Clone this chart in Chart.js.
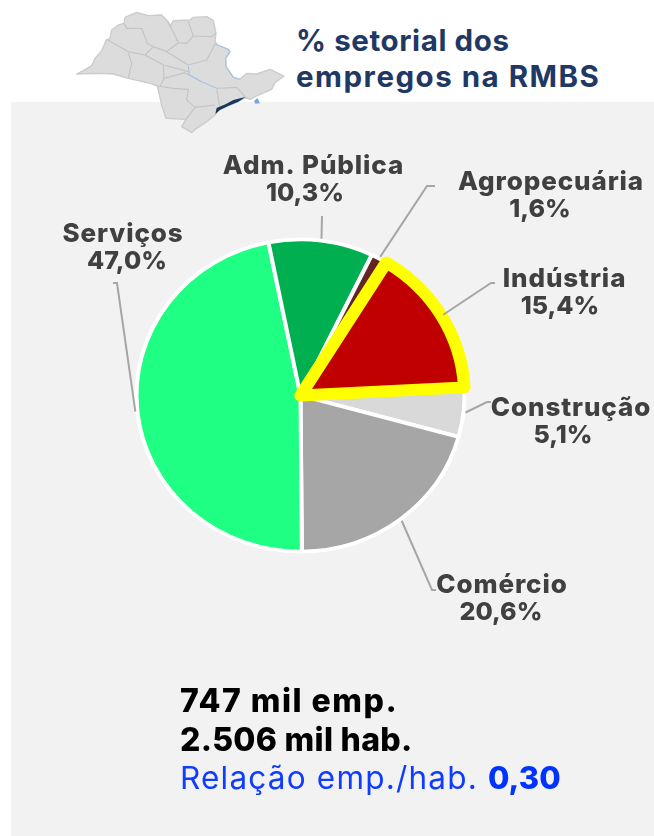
<!DOCTYPE html>
<html lang="pt-BR"><head><meta charset="utf-8">
<style>
html,body{margin:0;padding:0;background:#fff;overflow:hidden}
#page{position:relative;width:654px;height:836px;overflow:hidden;font-family:Inter,"Open Sans",sans-serif}
#panel{position:absolute;left:11px;top:102px;width:643px;height:734px;background:#f2f2f2}
#map{position:absolute;left:60px;top:0;width:240px;height:140px}
canvas{position:absolute;left:0;top:0}
.t{position:absolute;white-space:nowrap}
#title{left:296px;top:22px;font-size:29.5px;line-height:36px;font-weight:700;letter-spacing:.6px;color:#1f3864}
#title span{letter-spacing:1.5px}
#stats{left:180px;top:682px;font-size:32px;line-height:38.5px;font-weight:800;letter-spacing:.3px;color:#000}
#stats .a{letter-spacing:1.5px}
#stats .b{color:#0f3cff;font-weight:400;font-size:31.5px;letter-spacing:1.2px}
#stats .b b{font-weight:800;font-size:31px;letter-spacing:0;color:#0033ff}
</style></head><body>
<div id="page">
<div id="panel"></div>
<svg id="map" viewBox="0 0 720 420">
<path fill="#dcdcdc" stroke="#cbcbcb" stroke-width="4" stroke-linejoin="round" d="M50 222L70 212L95 197L105 175L125 152L138 122L150 115L155 90L175 75L192 70L195 52L230 37L265 47L305 45L322 62L330 80L340 62L390 60L400 52L440 50L460 62L468 100L465 125L472 135L505 148L510 155L497 175L498 200L520 232L540 238L560 220L590 222L630 208L672 228L645 248L635 268L590 288L570 298L555 293L535 305L480 325L465 345L440 365L410 385L395 398L365 380L378 358L318 355L305 315L292 258L270 250L205 235L160 222L115 220Z"/>
<path fill="none" stroke="#c4c4c4" stroke-width="3.5" stroke-linejoin="round" d="M140 118L205 155L255 165L280 140M255 165L310 195L385 215M205 158L215 190L205 235M310 195L312 235L300 260M192 70L200 85L245 85L262 130L280 140L320 155M320 155L355 128L325 65M355 128L380 130L400 108L385 65M400 108L455 110L468 100M320 155L385 195L440 180L465 132M312 235L375 218L425 245M292 258L340 265L385 268L380 300L405 322L465 315M405 322L378 358M470 265L530 262L560 295M470 265L480 325"/>
<path fill="none" stroke="#a9c4e4" stroke-width="3.5" stroke-linejoin="round" d="M465 132L472 135L505 148L510 155L497 175L498 200L520 232L540 238M385 198L388 225L425 245L470 265"/>
<path fill="#7ba6dc" d="M582 303L592 294L600 310L586 311Z"/>
<path fill="#17375e" d="M466 342L470 324L498 312L520 300L556 291L535 305L510 316L480 330Z"/>
</svg>
<div class="t" id="title">% setorial dos<br><span>empregos na RMBS</span></div>
<canvas id="c" width="654" height="836"></canvas>
<div class="t" id="stats"><span class="a">747 mil emp.</span><br>2.506 mil hab.<br><span class="b">Relação emp./hab. <b>0,30</b></span></div>
</div>
<script src="https://cdn.jsdelivr.net/npm/chart.js@4"></script>
<script>
const categories = ['Construção','Comércio','Serviços','Adm. Pública','Agropecuária','Indústria'];
const shares = [5.1,20.6,47.0,10.3,1.6,15.4];
const sliceColors = ['#d9d9d9','#a6a6a6','#1eff84','#00b050','#632523','#c00000'];
const edgeColors = ['#fff','#fff','#fff','#fff','#fff','#ffff00'];
const edgeWidths = [4,4,4,4,4,12.5];
const squash = 0.952;
// label layout: name centre x, percent centre x, first line y, leader elbow, leader end
const labelLayout = [
 {x:571,px:563,y:408,ex:487,ey:402,lx:491,ly:402},
 {x:502,px:501,y:585,ex:432,ey:590,lx:436,ly:590},
 {x:123,px:127,y:234,ex:117,ey:283,lx:113,ly:283},
 {x:313.5,px:305,y:166,ex:322,ey:216,lx:322,ly:216},
 {x:551,px:540,y:182,ex:427,ey:186,lx:435,ly:186},
 {x:564.5,px:560,y:279,ex:491,ey:283,lx:495,ly:283}
];
const sliceLabels = {
 id:'sliceLabels',
 beforeDatasetsDraw(chart){
  const ctx = chart.ctx, a = chart.getDatasetMeta(0).data[0];
  ctx.save();
  ctx.translate(a.x,a.y); ctx.scale(1,squash); ctx.translate(-a.x,-a.y);
 },
 afterDatasetsDraw(chart){
  const ctx = chart.ctx, arcs = chart.getDatasetMeta(0).data;
  ctx.restore();
  ctx.save();
  arcs.forEach((a,i)=>{
   const p = a.getProps(['x','y','startAngle','endAngle','outerRadius'],true);
   const m = (p.startAngle+p.endAngle)/2, r = p.outerRadius+2, l = labelLayout[i];
   ctx.strokeStyle='#a6a6a6'; ctx.lineWidth=2;
   ctx.beginPath();
   ctx.moveTo(p.x+Math.cos(m)*r,p.y+Math.sin(m)*r*squash);
   ctx.lineTo(l.ex,l.ey); ctx.lineTo(l.lx,l.ly); ctx.stroke();
  });
  ctx.fillStyle='#404040'; ctx.textAlign='center'; ctx.textBaseline='middle';
  arcs.forEach((a,i)=>{
   const l = labelLayout[i];
   ctx.font='800 26px Inter, sans-serif';
   ctx.letterSpacing='0.9px';
   ctx.fillText(categories[i],l.x,l.y);
   ctx.font='800 25px Inter, sans-serif';
   ctx.letterSpacing='0px';
   ctx.fillText(shares[i].toFixed(1).replace('.',',')+'%',l.px,l.y+27);
  });
  ctx.restore();
 }
};
new Chart(document.getElementById('c'),{
 type:'pie',
 data:{labels:categories,datasets:[{data:shares,backgroundColor:sliceColors,borderColor:edgeColors,borderWidth:edgeWidths,borderJoinStyle:'round'}]},
 options:{
  responsive:false,animation:false,rotation:87,radius:164,
  layout:{padding:{left:0,top:0,right:53,bottom:45}},
  plugins:{legend:{display:false},tooltip:{enabled:false},title:{display:false}}
 },
 plugins:[sliceLabels]
});
</script>
</body></html>
